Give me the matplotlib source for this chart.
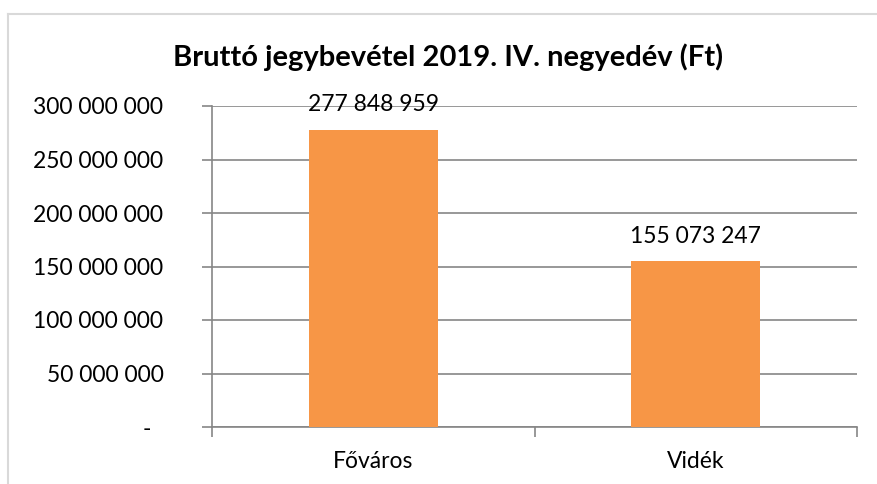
import matplotlib
matplotlib.use("Agg")
import matplotlib.pyplot as plt
from matplotlib.ticker import FuncFormatter, MultipleLocator

categories = ["Főváros", "Vidék"]
values = [277848959, 155073247]
title = "Bruttó jegybevétel 2019. IV. negyedév (Ft)"

plt.rcParams['font.family'] = ['Lato', 'DejaVu Sans']

W, H = 877, 484
fig = plt.figure(figsize=(W/100, H/100), dpi=100)
ax = fig.add_axes([212/W, 1-427/H, (857-212)/W, (427-106)/H])

x = list(range(len(categories)))
bars = ax.bar(x, values, width=0.4, color="#F79646", zorder=3)
ax.set_xlim(-0.5, len(categories)-0.5)
ax.set_ylim(0, 300000000)
ax.yaxis.set_major_locator(MultipleLocator(50000000))

def fmt(v, pos):
    if v == 0:
        return "-  "
    s = f"{int(v):,}".replace(",", " ")
    return s
ax.yaxis.set_major_formatter(FuncFormatter(fmt))

FS = 16.5
ax.set_xticks(x)
ax.set_xticklabels(categories)
ax.set_xticks([-0.5, 0.5, 1.5], minor=True)
ax.tick_params(axis='x', which='major', length=0, pad=17, labelsize=FS)
ax.tick_params(axis='x', which='minor', length=7, color="#868686", width=1.2)
ax.tick_params(axis='y', length=7, color="#868686", width=1.2, pad=28, labelsize=FS)

ax.grid(axis='y', color="#868686", linewidth=1.2, zorder=0)
for s in ['top', 'right']:
    ax.spines[s].set_visible(False)
for s in ['left', 'bottom']:
    ax.spines[s].set_color("#868686")
    ax.spines[s].set_linewidth(1.2)

for xi, v in zip(x, values):
    ax.annotate(f"{v:,}".replace(",", " "), (xi, v), xytext=(0, 13.3),
                textcoords="offset points", ha="center", va="baseline", fontsize=FS)

fig.text(448/W, 1-57/H, title, ha="center", va="center", fontsize=21, fontweight="bold")

# chart border (top and left visible)
fig.add_artist(plt.Line2D([7.5/W, 1], [1-13.5/H]*2, color="#D9D9D9", linewidth=1.5))
fig.add_artist(plt.Line2D([7.5/W]*2, [0, 1-13.5/H], color="#D9D9D9", linewidth=1.5))

fig.savefig("out.png", dpi=100)
